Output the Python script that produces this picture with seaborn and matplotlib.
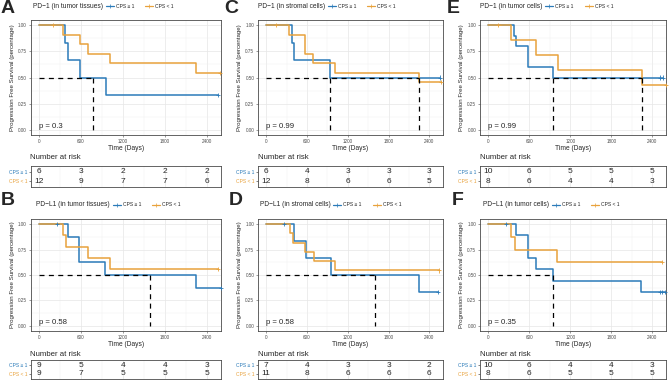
import numpy as np
import matplotlib
matplotlib.use("Agg")
import matplotlib.pyplot as plt
import pandas as pd
import seaborn as sns
from matplotlib.lines import Line2D

BLUE = "#2B7BB9"
ORANGE = "#E8A23C"

group_names = ["CPS \u2265 1", "CPS < 1"]
risk_times = [0, 600, 1200, 1800, 2400]

# ---- A: PD-1 in tumor tissues
a_title = "PD\u22121 (in tumor tissues)"
a_p = "p = 0.3"
a_blue_t = [372, 411, 589, 951]
a_blue_s = [0.833, 0.667, 0.5, 0.333]
a_blue_c = [2560]
a_orange_t = [338, 580, 695, 1014, 2245]
a_orange_s = [0.909, 0.818, 0.727, 0.636, 0.545]
a_orange_c = [200, 2585]
a_risk_blue = [6, 3, 2, 2, 2]
a_risk_orange = [12, 9, 7, 7, 6]

# ---- B: PD-L1 in tumor tissues
b_title = "PD\u2212L1 (in tumor tissues)"
b_p = "p = 0.58"
b_blue_t = [412, 577, 941, 2240]
b_blue_s = [0.875, 0.625, 0.5, 0.375]
b_blue_c = [262, 2600]
b_orange_t = [339, 388, 698, 1013]
b_orange_s = [0.889, 0.778, 0.667, 0.556]
b_orange_c = [2555]
b_risk_blue = [9, 5, 4, 4, 3]
b_risk_orange = [9, 7, 5, 5, 5]

# ---- C: PD-1 in stromal cells
c_title = "PD\u22121 (in stromal cells)"
c_p = "p = 0.99"
c_blue_t = [375, 404, 944]
c_blue_s = [0.833, 0.667, 0.5]
c_blue_c = [2556]
c_orange_t = [331, 570, 691, 1013, 2254]
c_orange_s = [0.909, 0.727, 0.636, 0.545, 0.4545]
c_orange_c = [150, 2575]
c_risk_blue = [6, 4, 3, 3, 3]
c_risk_orange = [12, 8, 6, 6, 5]

# ---- D: PD-L1 in stromal cells
d_title = "PD\u2212L1 (in stromal cells)"
d_p = "p = 0.58"
d_blue_t = [414, 584, 949, 2244]
d_blue_s = [0.833, 0.667, 0.5, 0.333]
d_blue_c = [268, 2522]
d_orange_t = [346, 394, 574, 696, 1013]
d_orange_s = [0.909, 0.818, 0.727, 0.636, 0.545]
d_orange_c = [2546]
d_risk_blue = [7, 4, 3, 3, 2]
d_risk_orange = [11, 8, 6, 6, 6]

# ---- E: PD-1 in tumor cells
e_title = "PD\u22121 (in tumor cells)"
e_p = "p = 0.99"
e_blue_t = [384, 413, 583, 942]
e_blue_s = [0.9, 0.8, 0.6, 0.5]
e_blue_c = [2512, 2550]
e_orange_t = [340, 700, 1015, 2245]
e_orange_s = [0.857, 0.714, 0.571, 0.429]
e_orange_c = [150, 2600]
e_risk_blue = [10, 6, 5, 5, 5]
e_risk_orange = [8, 6, 4, 4, 3]

# ---- F: PD-L1 in tumor cells
f_title = "PD\u2212L1 (in tumor cells)"
f_p = "p = 0.35"
f_blue_t = [412, 577, 698, 941, 2230]
f_blue_s = [0.889, 0.667, 0.556, 0.444, 0.333]
f_blue_c = [262, 2507, 2545, 2580]
f_orange_t = [339, 388, 1013]
f_orange_s = [0.875, 0.75, 0.625]
f_orange_c = [2545]
f_risk_blue = [10, 6, 4, 4, 3]
f_risk_orange = [8, 6, 5, 5, 5]

panels = [
    ("A", a_title, a_p, (a_blue_t, a_blue_s, a_blue_c), (a_orange_t, a_orange_s, a_orange_c), a_risk_blue, a_risk_orange),
    ("B", b_title, b_p, (b_blue_t, b_blue_s, b_blue_c), (b_orange_t, b_orange_s, b_orange_c), b_risk_blue, b_risk_orange),
    ("C", c_title, c_p, (c_blue_t, c_blue_s, c_blue_c), (c_orange_t, c_orange_s, c_orange_c), c_risk_blue, c_risk_orange),
    ("D", d_title, d_p, (d_blue_t, d_blue_s, d_blue_c), (d_orange_t, d_orange_s, d_orange_c), d_risk_blue, d_risk_orange),
    ("E", e_title, e_p, (e_blue_t, e_blue_s, e_blue_c), (e_orange_t, e_orange_s, e_orange_c), e_risk_blue, e_risk_orange),
    ("F", f_title, f_p, (f_blue_t, f_blue_s, f_blue_c), (f_orange_t, f_orange_s, f_orange_c), f_risk_blue, f_risk_orange),
]

# layout in pixels
W, H = 669, 384
cols = [(30.5, 221), (258, 443), (480, 666)]
letter_x = [[1, 1], [224, 229], [447, 452]]
legend_x = [[33, 36], [258, 259.7], [480, 482.7]]
rows = [
    dict(letter=0, legend=6, plot=(20, 135), nar=158, table=(166, 187)),
    dict(letter=192, legend=205, plot=(219, 331), nar=355, table=(360, 379)),
]
XLIM = (-120, 2600)

sns.set_theme(style="white")
plt.rcParams["font.family"] = ["Liberation Sans", "DejaVu Sans"]

fig = plt.figure(figsize=(W / 100, H / 100), dpi=100)
renderer = fig.canvas.get_renderer()


def frac(left, top, right, bottom):
    return [left / W, 1 - bottom / H, (right - left) / W, (bottom - top) / H]


def surv_at(t, s, x):
    v = 1.0
    for ti, si in zip(t, s):
        if ti <= x:
            v = si
    return v


def median_time(t, s):
    for i, si in enumerate(s):
        if si <= 0.5 + 1e-6:
            if abs(si - 0.5) < 1e-3 and i + 1 < len(t):
                return (t[i] + t[i + 1]) / 2
            return t[i]
    return None


def style_box(ax):
    for sp in ax.spines.values():
        sp.set_visible(True)
        sp.set_color("#4A4A4A")
        sp.set_linewidth(0.6)


for idx, (letter, title, ptxt, blue, orange, rb, ro) in enumerate(panels):
    c = idx // 2
    r = idx % 2
    row = rows[r]
    left, right = cols[c]

    # --- survival curves
    recs = []
    cens = []
    meds = []
    for name, (t, s, cc) in zip(group_names, [blue, orange]):
        end = max(list(t) + list(cc))
        xs = [0] + list(t) + [end]
        ys = [1.0] + list(s) + [s[-1]]
        recs += [dict(time=x, surv=y, group=name) for x, y in zip(xs, ys)]
        cens += [dict(time=x, surv=surv_at(t, s, x), group=name) for x in cc]
        m = median_time(t, s)
        if m is not None:
            meds.append(m)
    df = pd.DataFrame(recs)
    dc = pd.DataFrame(cens)

    ax = fig.add_axes(frac(left, row["plot"][0], right, row["plot"][1]))
    sns.lineplot(data=df, x="time", y="surv", hue="group", hue_order=group_names,
                 palette=[BLUE, ORANGE], estimator=None, sort=False,
                 drawstyle="steps-post", lw=1.1, legend=False, ax=ax)
    sns.scatterplot(data=dc, x="time", y="surv", hue="group", hue_order=group_names,
                    palette=[BLUE, ORANGE], marker="+", s=9, linewidth=0.6,
                    legend=False, ax=ax, clip_on=False, zorder=4)
    if meds:
        ax.plot([0, max(meds)], [0.5, 0.5], color="black", lw=0.9, ls=(0, (4, 3.5)), zorder=5)
        for m in meds:
            ax.plot([m, m], [0.5, 0], color="black", lw=0.9, ls=(0, (4, 3.5)), zorder=5)
    ax.text(0, 0.035, ptxt, ha="left", va="center", fontsize=5.6)

    ax.set_xlim(XLIM)
    ax.set_ylim(-0.05, 1.05)
    ax.set_xticks(risk_times)
    ax.set_xticks([300, 900, 1500, 2100], minor=True)
    ax.set_yticks([0, 0.25, 0.5, 0.75, 1.0])
    ax.set_yticks([0.125, 0.375, 0.625, 0.875], minor=True)
    ax.set_yticklabels(["0.00", "0.25", "0.50", "0.75", "1.00"])
    ax.grid(which="major", color="#E6E6E6", lw=0.5)
    ax.grid(which="minor", color="#F0F0F0", lw=0.3)
    ax.set_axisbelow(True)
    ax.tick_params(axis="both", which="major", labelsize=3.3, colors="#4D4D4D",
                   length=1.5, width=0.4, pad=1.2, bottom=True, left=True)
    ax.tick_params(which="minor", length=0)
    ax.set_xlabel("Time (Days)", fontsize=4.8, labelpad=0.6)
    ax.set_ylabel("Progression Free Survival (percentage)", fontsize=4.4, labelpad=2.0)
    style_box(ax)

    # --- risk table
    axt = fig.add_axes(frac(left, row["table"][0], right, row["table"][1]))
    axt.set_xlim(XLIM)
    axt.set_ylim(-0.65, 1.65)
    for x, nb, no in zip(risk_times, rb, ro):
        axt.text(x, 1, str(nb), ha="center", va="center", fontsize=6)
        axt.text(x, 0, str(no), ha="center", va="center", fontsize=6)
    axt.set_xticks(risk_times)
    axt.set_xticks([300, 900, 1500, 2100], minor=True)
    axt.set_xticklabels([])
    axt.set_yticks([1, 0])
    axt.set_yticklabels(group_names)
    for lab, col in zip(axt.get_yticklabels(), [BLUE, ORANGE]):
        lab.set_color(col)
    axt.grid(axis="x", which="major", color="#E6E6E6", lw=0.5)
    axt.grid(axis="x", which="minor", color="#F0F0F0", lw=0.3)
    axt.tick_params(axis="y", labelsize=3.6, length=1.5, width=0.4, pad=1.0, left=True)
    axt.tick_params(axis="x", length=0)
    style_box(axt)
    fig.text(left / W, 1 - row["nar"] / H, "Number at risk", fontsize=5.6,
             ha="left", va="center")

    # --- panel letter
    fig.text(letter_x[c][r] / W, 1 - row["letter"] / H, letter, fontsize=14,
             fontweight="bold", ha="left", va="top")

    # --- legend on top
    ly = 1 - row["legend"] / H
    tt = fig.text(legend_x[c][r] / W, ly, title, fontsize=4.8, ha="left", va="center")
    cur = tt.get_window_extent(renderer=renderer).x1 + 3
    for name, col in zip(group_names, [BLUE, ORANGE]):
        fig.add_artist(Line2D([cur / W, (cur + 8) / W], [ly, ly], color=col, lw=0.9,
                              transform=fig.transFigure))
        fig.add_artist(Line2D([(cur + 4) / W], [ly], color=col, marker="+", ms=2.5,
                              mew=0.5, transform=fig.transFigure))
        lab = fig.text((cur + 10) / W, ly, name, fontsize=3.6, ha="left", va="center")
        cur = lab.get_window_extent(renderer=renderer).x1 + 11

fig.savefig("out.png", dpi=100)
